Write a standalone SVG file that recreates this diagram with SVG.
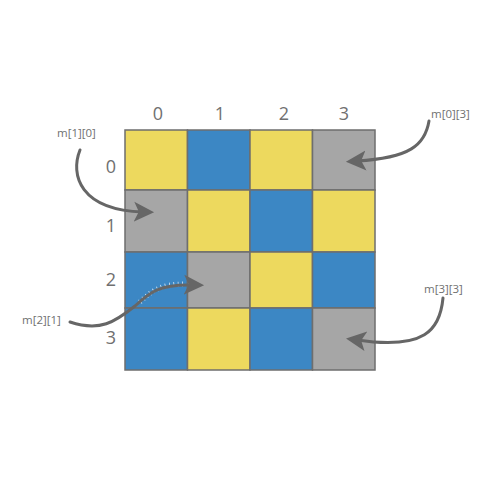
<svg xmlns="http://www.w3.org/2000/svg" width="500" height="500" viewBox="0 0 500 500">
<defs>
<style>
.y{fill:#EDD95E}.b{fill:#3C87C4}.g{fill:#A6A6A6}
.cell{stroke:#6E6E6E;stroke-width:1.5}
.idx{font-family:"Open Sans","DejaVu Sans",sans-serif;font-size:18px;fill:#707070;text-anchor:middle}
.lbl{font-family:"Open Sans","DejaVu Sans",sans-serif;font-size:11.5px;fill:#707070}
.arr{fill:none;stroke:#666666;stroke-width:3;stroke-linecap:round}
.halo{fill:none;stroke:#FFFFFF;stroke-width:5;stroke-dasharray:0.8 3.5;opacity:0.8}
</style>
<marker id="ah" markerWidth="8" markerHeight="8" refX="3" refY="4" orient="auto" markerUnits="strokeWidth">
<path d="M0,0.7 L6.7,4 L0,7.3 L1.6,4 Z" fill="#666666"/>
</marker>
</defs>
<rect width="500" height="500" fill="#FFFFFF"/>
<g id="grid">
<rect id="c00" class="cell y" x="125" y="130" width="62.5" height="60"/>
<rect id="c01" class="cell b" x="187.5" y="130" width="62.5" height="60"/>
<rect id="c02" class="cell y" x="250" y="130" width="62.5" height="60"/>
<rect id="c03" class="cell g" x="312.5" y="130" width="62.5" height="60"/>
<rect id="c10" class="cell g" x="125" y="190" width="62.5" height="62"/>
<rect id="c11" class="cell y" x="187.5" y="190" width="62.5" height="62"/>
<rect id="c12" class="cell b" x="250" y="190" width="62.5" height="62"/>
<rect id="c13" class="cell y" x="312.5" y="190" width="62.5" height="62"/>
<rect id="c20" class="cell b" x="125" y="252" width="62.5" height="56"/>
<rect id="c21" class="cell g" x="187.5" y="252" width="62.5" height="56"/>
<rect id="c22" class="cell y" x="250" y="252" width="62.5" height="56"/>
<rect id="c23" class="cell b" x="312.5" y="252" width="62.5" height="56"/>
<rect id="c30" class="cell b" x="125" y="308" width="62.5" height="62"/>
<rect id="c31" class="cell y" x="187.5" y="308" width="62.5" height="62"/>
<rect id="c32" class="cell b" x="250" y="308" width="62.5" height="62"/>
<rect id="c33" class="cell g" x="312.5" y="308" width="62.5" height="62"/>
</g>
<g id="colLabels">
<text class="idx" x="158" y="120">0</text>
<text class="idx" x="220" y="120">1</text>
<text class="idx" x="284" y="120">2</text>
<text class="idx" x="344" y="120">3</text>
</g>
<g id="rowLabels">
<text class="idx" x="111" y="173">0</text>
<text class="idx" x="111" y="232">1</text>
<text class="idx" x="111" y="286">2</text>
<text class="idx" x="111" y="344">3</text>
</g>
<g id="labels">
<text id="l10" class="lbl" x="57" y="137">m[1][0]</text>
<text id="l21" class="lbl" x="22" y="324">m[2][1]</text>
<text id="l03" class="lbl" x="431" y="118">m[0][3]</text>
<text id="l33" class="lbl" x="424" y="293">m[3][3]</text>
</g>
<g id="connectors">
<path class="halo" d="M140,302 C152,290 162,284 184,284"/>
<path class="arr" marker-end="url(#ah)" d="M80,150 C70,175 80,210 143,212"/>
<path class="arr" marker-end="url(#ah)" d="M70,322 C100,332 115,322 135,306 C150,292 160,284 193,285"/>
<path class="arr" marker-end="url(#ah)" d="M429,121 C425,145 410,158 357,161"/>
<path class="arr" marker-end="url(#ah)" d="M443,298 C440,330 425,350 357,340"/>
</g>
</svg>
